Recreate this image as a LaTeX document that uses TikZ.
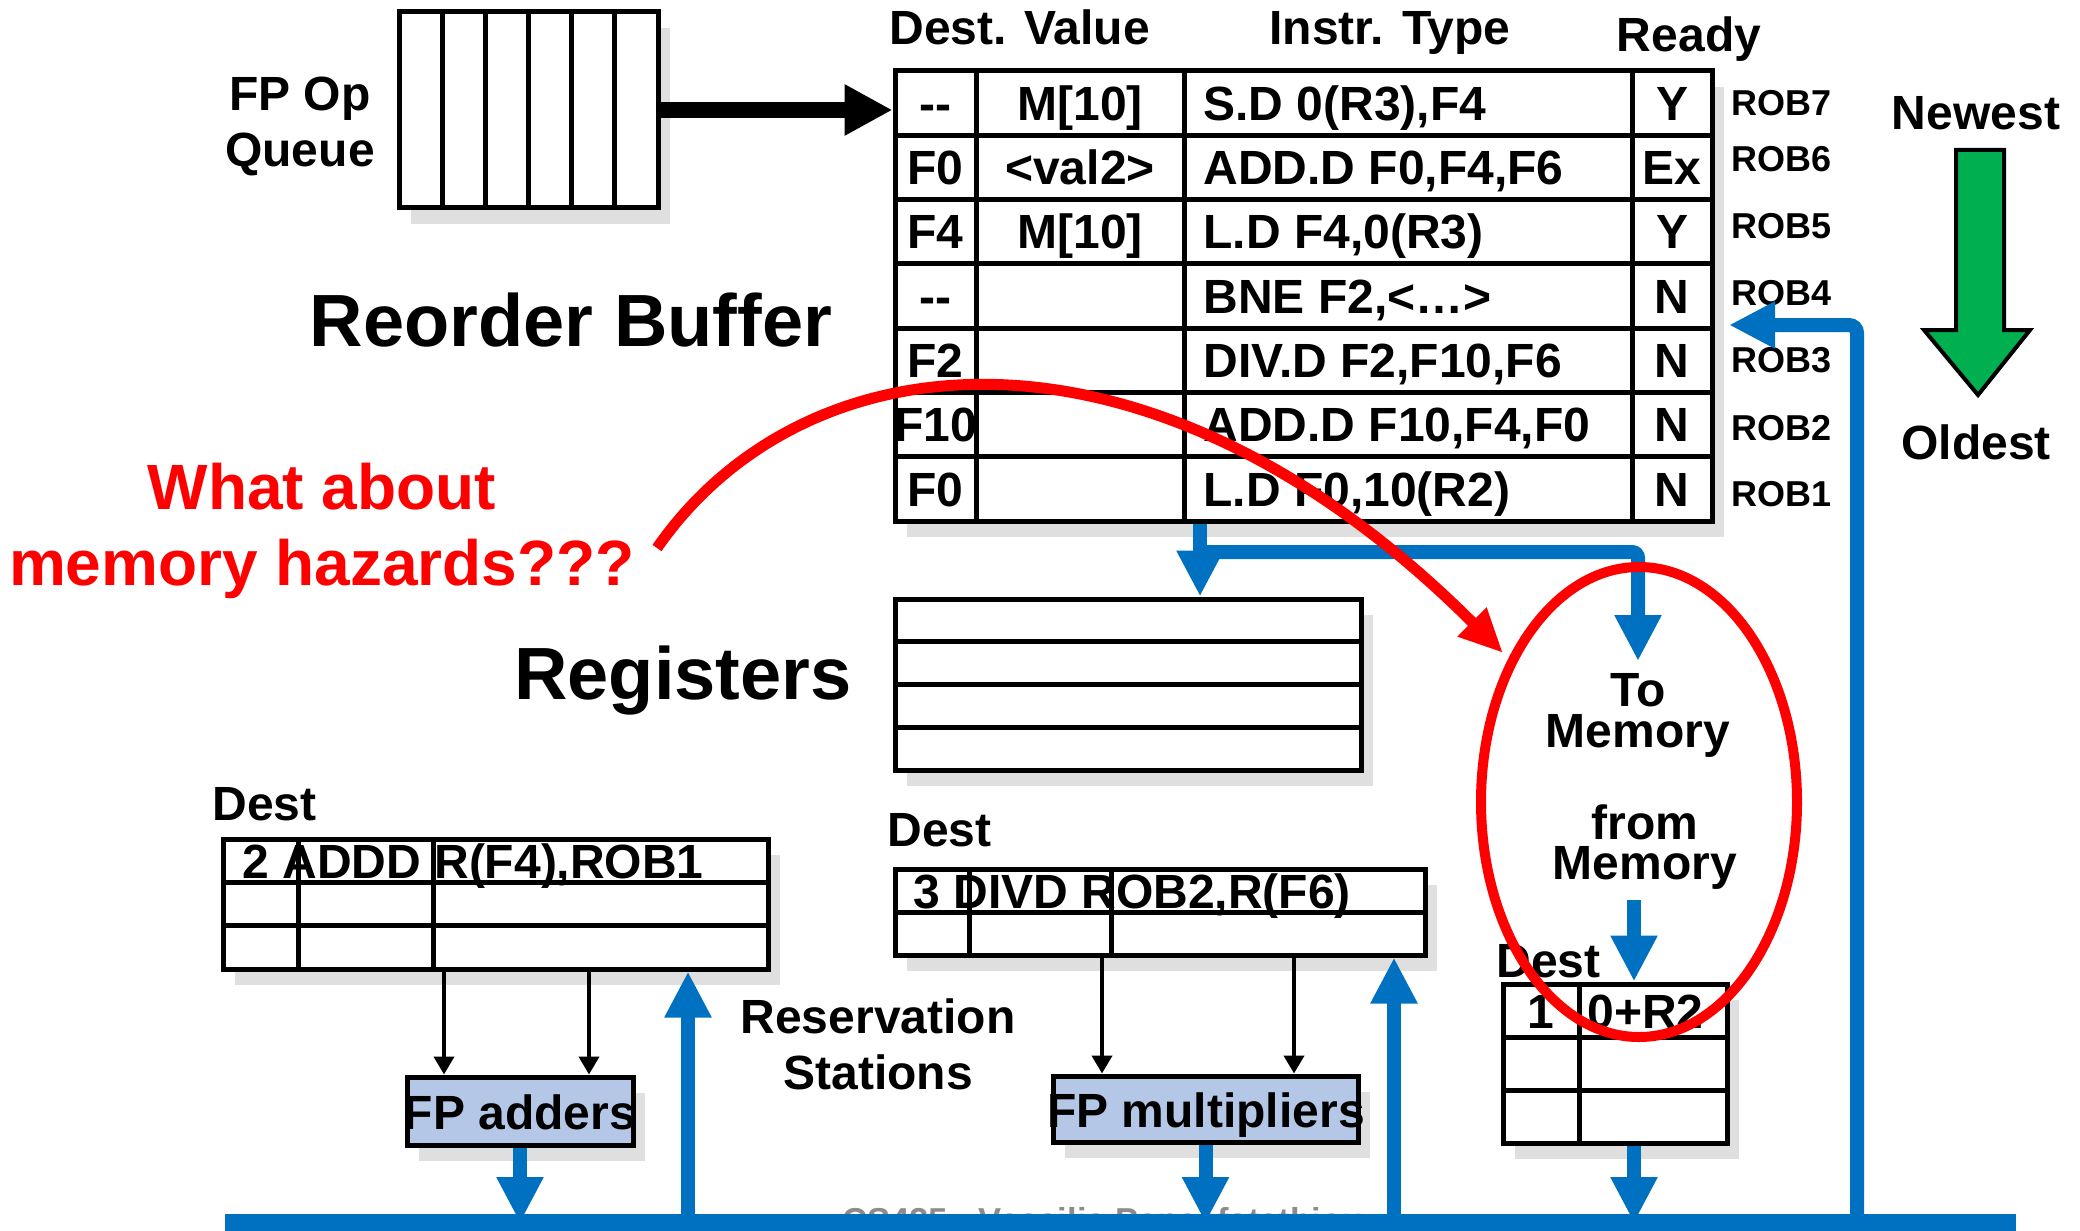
\documentclass[tikz,border=0pt]{standalone}
\usepackage{fontspec}
\setmainfont{Liberation Sans}
\usetikzlibrary{arrows.meta,positioning,calc,shadows,shapes.geometric}
\definecolor{busblue}{HTML}{0070C0}
\definecolor{agegreen}{HTML}{00B050}
\definecolor{unitblue}{HTML}{B4C7E7}
\definecolor{footgray}{HTML}{8C8C8C}

\tikzset{
  tablebox/.style={draw, line width=2.5pt, fill=white, inner sep=0pt,
    drop shadow={shadow xshift=6pt, shadow yshift=-8pt, opacity=0.25}},
  unitbox/.style={tablebox, fill=unitblue},
  tablerule/.style={line width=2.5pt},
  cell/.style={inner sep=0pt, text height=17.2pt, text depth=0pt},
  tag/.style={inner sep=0pt, font=\bfseries\fontsize{18}{20}\selectfont, text height=12.9pt, text depth=0pt},
  bigtitle/.style={inner sep=0pt, font=\bfseries\fontsize{37}{40}\selectfont, text height=26.5pt, text depth=0pt},
  stack/.style={inner sep=0pt, align=center, anchor=north},
  bus/.style={busblue, line width=7pt},
  busarrow/.style={bus, -{Triangle[length=23pt,width=22pt]}},
  feed/.style={line width=2pt, -{Triangle[length=9pt,width=10pt]}},
}

\begin{document}
\begin{tikzpicture}[x=0.5pt, y=-0.5pt, font=\bfseries\fontsize{24}{28}\selectfont]
\useasboundingbox (0,0) rectangle (2080,1230);
\clip (0,0) rectangle (2080,1230);

% instruction queue
\node[tablebox, minimum width=129.5pt, minimum height=98pt] (queue) at (528.5,110) {};
\foreach \k in {1,...,5}
  \draw[tablerule] ({399+\k*43.17},12) -- ({399+\k*43.17},208);
\node[stack] (queuetxt) at (300,77) {FP Op\\Queue};

% reorder buffer
\node[tablebox, minimum width=408.5pt, minimum height=225pt] (rob) at (1303.5,296) {};
\foreach \y in {1,...,6}
  \draw[tablerule] (895,{71+\y*64.2857}) -- (1712,{71+\y*64.2857});
\foreach \x in {976,1184,1632}
  \draw[tablerule] (\x,71) -- (\x,521);
\node[cell, anchor=west] (hdest) at (889,27) {Dest. Value};
\node[cell] (hinstr) at (1390,27) {Instr. Type};
\node[cell] (hready) at (1689,34) {Ready};
\foreach \dst/\val/\ins/\rdy [count=\i] in {
    {-{}-}/{M[10]}/{S.D 0(R3),F4}/Y,
    F0/{<val2>}/{ADD.D F0,F4,F6}/Ex,
    F4/{M[10]}/{L.D F4,0(R3)}/Y,
    {-{}-}/{}/{BNE F2,<…>}/N,
    F2/{}/{DIV.D F2,F10,F6}/N,
    F10/{}/{ADD.D F10,F4,F0}/N,
    F0/{}/{L.D F0,10(R2)}/N}
{
  \node[cell] (dst\i) at (935.5,{71+(\i-0.5)*64.2857}) {\dst};
  \node[cell] (val\i) at (1080,{71+(\i-0.5)*64.2857}) {\val};
  \node[cell, anchor=west] (ins\i) at (1203,{71+(\i-0.5)*64.2857}) {\ins};
  \node[cell] (rdy\i) at (1672,{71+(\i-0.5)*64.2857}) {\rdy};
}
\foreach \t/\y in {7/103,6/159,5/226,4/293,3/360,2/428,1/494}
  \node[tag, anchor=west] (rob\t) at (1731,\y) {ROB\t};

% age of entries
\node[cell] (newest) at (1976,112) {Newest};
\node[cell] (oldest) at (1976,442) {Oldest};
\draw[line width=2pt, fill=agegreen] (1956,150) -- (2004,150) -- (2004,330) -- (2030,330)
  -- (1978,395) -- (1924,330) -- (1956,330) -- cycle;

\node[bigtitle] (robtitle) at (571,320) {Reorder Buffer};
\node[bigtitle] (regtitle) at (683,673) {Registers};
\node[stack, red, font=\bfseries\fontsize{32}{38}\selectfont] (hazard) at (322,463) {What about\\memory hazards???};

% register file
\node[tablebox, minimum width=233pt, minimum height=85.5pt] (regs) at (1128,684.5) {};
\foreach \y in {641.75,684.5,727.25}
  \draw[tablerule] (895,\y) -- (1361,\y);

% reservation stations
\node[cell, anchor=west] (adddest) at (212,803) {Dest};
\node[tablebox, minimum width=272.5pt, minimum height=65pt] (rsadd) at (495.5,904) {};
\node[cell, anchor=west] (rsaddtxt) at (242,861) {2 ADDD R(F4),ROB1};
\foreach \y in {882.3,925.7}
  \draw[tablerule] (223,\y) -- (768,\y);
\foreach \x in {298,433}
  \draw[tablerule] (\x,839) -- (\x,969);

\node[cell, anchor=west] (muldest) at (887,829) {Dest};
\node[tablebox, minimum width=265pt, minimum height=43pt] (rsmul) at (1160,912) {};
\node[cell, anchor=west] (rsmultxt) at (913,891) {3 DIVD ROB2,R(F6)};
\draw[tablerule] (895,912) -- (1425,912);
\foreach \x in {969,1111}
  \draw[tablerule] (\x,869) -- (\x,955);

\node[stack] (resstat) at (878,998) {Reservation\\Stations};

% load/store buffer
\node[stack, font=\bfseries\fontsize{24}{20.5}\selectfont] (tomem) at (1638,673) {To\\Memory};
\node[stack, font=\bfseries\fontsize{24}{20}\selectfont] (frommem) at (1645,804) {from\\Memory};
\node[tablebox, minimum width=112pt, minimum height=79.5pt] (stbuf) at (1615,1063.5) {};
\foreach \y in {1037,1090}
  \draw[tablerule] (1503,\y) -- (1727,\y);
\draw[tablerule] (1579,984) -- (1579,1143);
\node[cell] (stnum) at (1541,1011) {1};
\node[cell, anchor=west] (staddr) at (1587,1011) {0+R2};
\node[cell, anchor=west] (stdest) at (1496,960) {Dest};

% functional units
\node[unitbox, minimum width=113pt, minimum height=34pt] (fpadd) at (520,1111) {};
\node[cell] (fpaddtxt) at (520,1112) {FP adders};
\node[unitbox, minimum width=152.5pt, minimum height=33pt] (fpmul) at (1205.5,1109) {};
\node[cell] (fpmultxt) at (1206,1110) {FP multipliers};

\coordinate (addin1) at (444,0);
\coordinate (addin2) at (589,0);
\coordinate (mulin1) at (1102,0);
\coordinate (mulin2) at (1294,0);
\foreach \a in {addin1,addin2}
  \draw[feed] (\a |- rsadd.south) -- (\a |- fpadd.north);
\foreach \a in {mulin1,mulin2}
  \draw[feed] (\a |- rsmul.south) -- (\a |- fpmul.north);

% issue from the queue
\draw[line width=8pt, -{Triangle[length=24pt,width=24pt]}] (queue.east) -- (queue.east -| rob.west);

% footer
\node[anchor=base west, inner sep=0pt, text=footgray, font=\bfseries\fontsize{17.3}{20}\selectfont] (footer) at (842,1232) {CS425 - Vassilis Papaefstathiou};

% common data bus
\coordinate (busL) at (225,1223);
\coordinate (busR) at (2016,1223);
\coordinate (split) at (1200,552);
\coordinate (memin) at (1634,900);
\coordinate (addback) at (688,1223);
\coordinate (mulback) at (1394,1223);
\coordinate (robback) at (1857,1223);
\coordinate (robtip) at (1729,325);
\draw[busarrow] (rob.south -| split) -- (regs.north -| split);
\draw[busarrow, rounded corners=3pt] (split) -| ([yshift=6pt]tomem.north);
\draw[busarrow] (memin) -- (memin |- stbuf.north);
\draw[busarrow] (stbuf.south -| memin) -- (memin |- busL);
\draw[busarrow] (fpadd.south) -- (fpadd.south |- busL);
\draw[busarrow] (fpmul.south) -- (fpmul.south |- busL);
\draw[busarrow] (addback) -- (addback |- rsadd.south);
\draw[busarrow] (mulback) -- (mulback |- rsmul.south);
\draw[busarrow, rounded corners=4pt] (robback) |- (robtip);
\draw[bus, line width=9pt] (busL) -- (busR);

% memory hazard question
\node[draw=red, line width=5pt, ellipse, inner sep=0pt, minimum width=158pt, minimum height=235pt] (hazring) at (1639,802) {};
\coordinate (askfrom) at (657,548);
\coordinate (askto) at (1503,653);
\draw[red, line width=5.5pt, -{Triangle[length=22pt,width=19pt]}] (askfrom) .. controls (805,335) and (1150,300) .. (askto);
\end{tikzpicture}
\end{document}
